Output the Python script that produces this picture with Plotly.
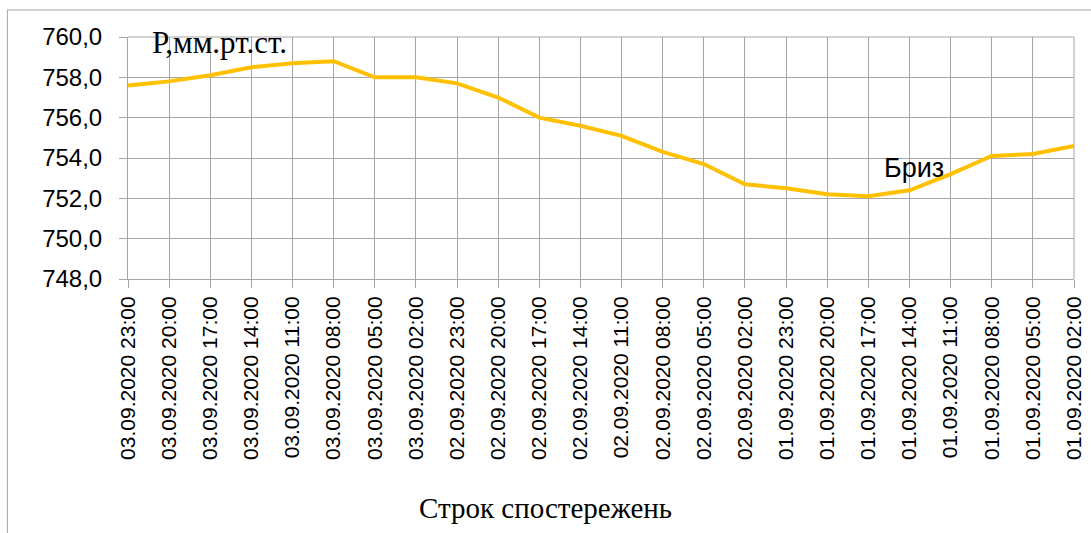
import plotly.graph_objects as go

categories = [
    "03.09.2020 23:00", "03.09.2020 20:00", "03.09.2020 17:00", "03.09.2020 14:00",
    "03.09.2020 11:00", "03.09.2020 08:00", "03.09.2020 05:00", "03.09.2020 02:00",
    "02.09.2020 23:00", "02.09.2020 20:00", "02.09.2020 17:00", "02.09.2020 14:00",
    "02.09.2020 11:00", "02.09.2020 08:00", "02.09.2020 05:00", "02.09.2020 02:00",
    "01.09.2020 23:00", "01.09.2020 20:00", "01.09.2020 17:00", "01.09.2020 14:00",
    "01.09.2020 11:00", "01.09.2020 08:00", "01.09.2020 05:00", "01.09.2020 02:00",
]
pressure = [
    757.6, 757.8, 758.1, 758.5, 758.7, 758.8, 758.0, 758.0,
    757.7, 757.0, 756.0, 755.6, 755.1, 754.3, 753.7, 752.7,
    752.5, 752.2, 752.1, 752.4, 753.2, 754.1, 754.2, 754.6,
]
y_ticks = [748, 750, 752, 754, 756, 758, 760]
y_labels = ["748,0", "750,0", "752,0", "754,0", "756,0", "758,0", "760,0"]

GRID = "#A6A6A6"
SANS = "Liberation Sans, Arial, sans-serif"
SERIF = "Liberation Serif, Times New Roman, serif"

fig = go.Figure()
fig.add_trace(go.Scatter(
    x=categories, y=pressure, mode="lines",
    line=dict(color="#FFC000", width=4),
    showlegend=False, hoverinfo="x+y",
))

fig.update_layout(
    width=1091, height=533,
    margin=dict(l=128, r=17, t=37, b=254),
    paper_bgcolor="white", plot_bgcolor="white",
    font=dict(family=SANS, color="black"),
    xaxis=dict(
        type="category", range=[0, len(categories) - 1], automargin=False,
        showgrid=True, gridcolor=GRID, gridwidth=1,
        showline=True, linecolor=GRID, linewidth=1,
        ticks="outside", ticklen=8, tickcolor=GRID,
        tickangle=-90, tickfont=dict(family=SANS, size=21, color="black"),
        mirror=False, zeroline=False,
    ),
    yaxis=dict(
        range=[748, 760], tickvals=y_ticks, ticktext=y_labels, automargin=False,
        showgrid=True, gridcolor=GRID, gridwidth=1,
        showline=True, linecolor=GRID, linewidth=1,
        ticks="outside", ticklen=8, tickcolor=GRID,
        tickfont=dict(family=SANS, size=24, color="black"),
        ticklabelstandoff=12, zeroline=False,
    ),
    shapes=[
        dict(type="line", xref="paper", yref="paper", x0=-0.1275, x1=-0.1275,
             y0=1.1116, y1=-1.06, line=dict(color=GRID, width=1)),
        dict(type="line", xref="paper", yref="paper", x0=-0.1275, x1=1.02,
             y0=1.1116, y1=1.1116, line=dict(color=GRID, width=1)),
        dict(type="line", xref="paper", yref="paper", x0=0, x1=1,
             y0=1, y1=1, line=dict(color=GRID, width=1)),
        dict(type="line", xref="paper", yref="paper", x0=1, x1=1,
             y0=0, y1=1, line=dict(color=GRID, width=1)),
    ],
    annotations=[
        dict(text="Р,мм.рт.ст.", xref="paper", yref="paper", x=0.0236, y=0.979,
             xanchor="left", yanchor="middle", showarrow=False,
             font=dict(family=SERIF, size=31, color="black")),
        dict(text="Бриз", xref="paper", yref="paper", x=0.797, y=0.4587,
             xanchor="left", yanchor="middle", showarrow=False,
             font=dict(family=SANS, size=27, color="black")),
        dict(text="Строк спостережень", xref="paper", yref="paper", x=0.441, y=-0.946,
             xanchor="center", yanchor="middle", showarrow=False,
             font=dict(family=SERIF, size=29, color="black")),
    ],
)

fig.write_html("out.html", config={"displayModeBar": False},
               post_script="document.body.style.margin='0';")
